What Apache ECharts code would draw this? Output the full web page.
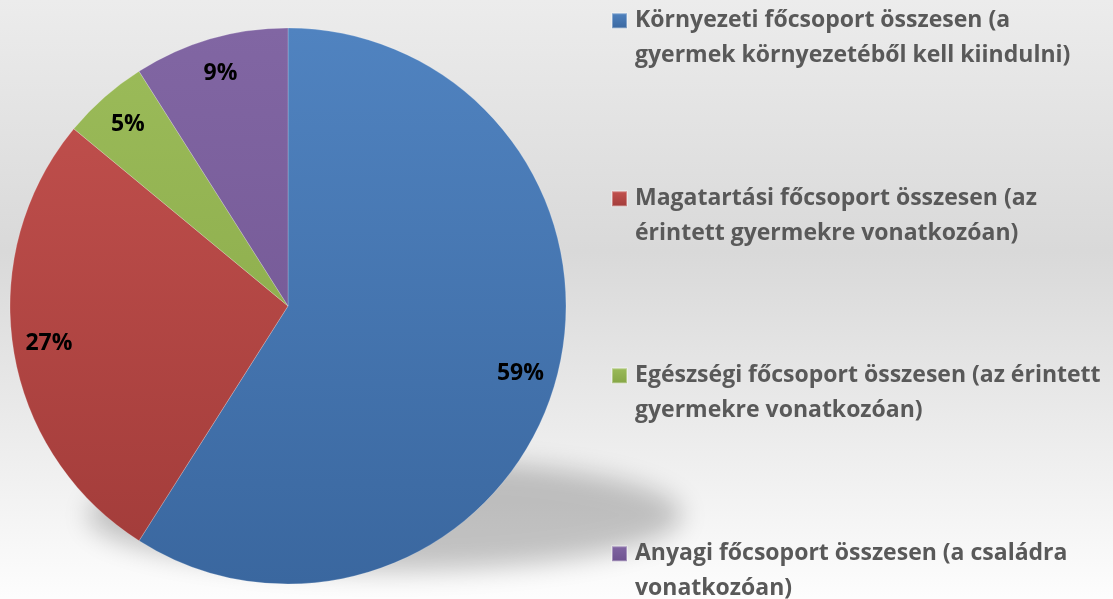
<!DOCTYPE html>
<html>
<head>
<meta charset="utf-8">
<script src="https://cdn.jsdelivr.net/npm/echarts@6/dist/echarts.min.js"></script>
<style>
html,body{margin:0;padding:0;}
#chart{width:1113px;height:599px;}
</style>
</head>
<body>
<div id="chart"></div>
<script>
const categories = [
  'Környezeti főcsoport összesen (a gyermek környezetéből kell kiindulni)',
  'Magatartási főcsoport összesen (az érintett gyermekre vonatkozóan)',
  'Egészségi főcsoport összesen (az érintett gyermekre vonatkozóan)',
  'Anyagi főcsoport összesen (a családra vonatkozóan)'
];
const legendLines = [
  ['Környezeti főcsoport összesen (a', 'gyermek környezetéből kell kiindulni)'],
  ['Magatartási főcsoport összesen (az', 'érintett gyermekre vonatkozóan)'],
  ['Egészségi főcsoport összesen (az érintett', 'gyermekre vonatkozóan)'],
  ['Anyagi főcsoport összesen (a családra', 'vonatkozóan)']
];
const values = [59, 27, 5, 9];
const topColors = ['#5083c0', '#c4524f', '#9cbc5a', '#8166a3'];
const bottomColors = ['#3a679f', '#a13b39', '#84a444', '#6e528f'];
const legendTops = [-36, 142, 319, 497];

const chart = echarts.init(document.getElementById('chart'));
const cx = 288, cy = 306, R = 278;

function sliceGrad(i) {
  return {
    type: 'linear', x: 0, y: cy - R, x2: 0, y2: cy + R, global: true,
    colorStops: [{offset: 0, color: topColors[i]}, {offset: 1, color: bottomColors[i]}]
  };
}
function iconGrad(i) {
  return {
    type: 'linear', x: 0, y: 0, x2: 0, y2: 1,
    colorStops: [{offset: 0, color: topColors[i]}, {offset: 1, color: bottomColors[i]}]
  };
}

const legends = categories.map((c, i) => ({
  orient: 'vertical',
  left: 606,
  top: legendTops[i],
  itemWidth: 15,
  itemHeight: 15,
  icon: 'rect',
  selectedMode: false,
  data: [{name: c, itemStyle: {color: iconGrad(i)}}],
  formatter: function () {
    return ' \n' + legendLines[i][0] + '\n' + legendLines[i][1];
  },
  textStyle: {
    fontFamily: 'Open Sans',
    fontWeight: 'bold',
    fontSize: 23,
    lineHeight: 34.5,
    color: '#595959',
    padding: [0, 0, 0, 3]
  }
}));

const option = {
  backgroundColor: {
    type: 'linear', x: 0, y: 0, x2: 0, y2: 1,
    colorStops: [
      {offset: 0, color: '#ececec'},
      {offset: 0.42, color: '#d9d9d9'},
      {offset: 1, color: '#fdfdfd'}
    ]
  },
  animation: false,
  graphic: [{
    type: 'ellipse',
    z: 0,
    shape: {cx: 385 - 3000, cy: 515, rx: 297, ry: 56},
    style: {
      fill: 'rgba(0,0,0,1)',
      shadowBlur: 26,
      shadowOffsetX: 3000,
      shadowOffsetY: 0,
      shadowColor: 'rgba(0,0,0,0.22)'
    },
    silent: true
  }],
  legend: legends,
  series: [{
    type: 'pie',
    center: [cx, cy],
    radius: [0, R],
    startAngle: 90,
    clockwise: true,
    label: {show: false},
    labelLine: {show: false},
    silent: true,
    itemStyle: {borderColor: 'rgba(255,255,255,0.35)', borderWidth: 0.6},
    data: categories.map((c, i) => ({name: c, value: values[i], itemStyle: {color: sliceGrad(i)}}))
  }, {
    type: 'pie',
    center: [cx, cy],
    radius: [R * 0.72, R],
    startAngle: 90,
    clockwise: true,
    silent: true,
    legendHoverLink: false,
    itemStyle: {color: 'rgba(0,0,0,0)'},
    label: {
      show: true,
      position: 'inside',
      formatter: '{d}%',
      fontFamily: 'Open Sans',
      fontWeight: 'bold',
      fontSize: 23,
      color: '#000'
    },
    labelLine: {show: false},
    data: categories.map((c, i) => ({name: c, value: values[i]}))
  }]
};
chart.setOption(option);
</script>
</body>
</html>
